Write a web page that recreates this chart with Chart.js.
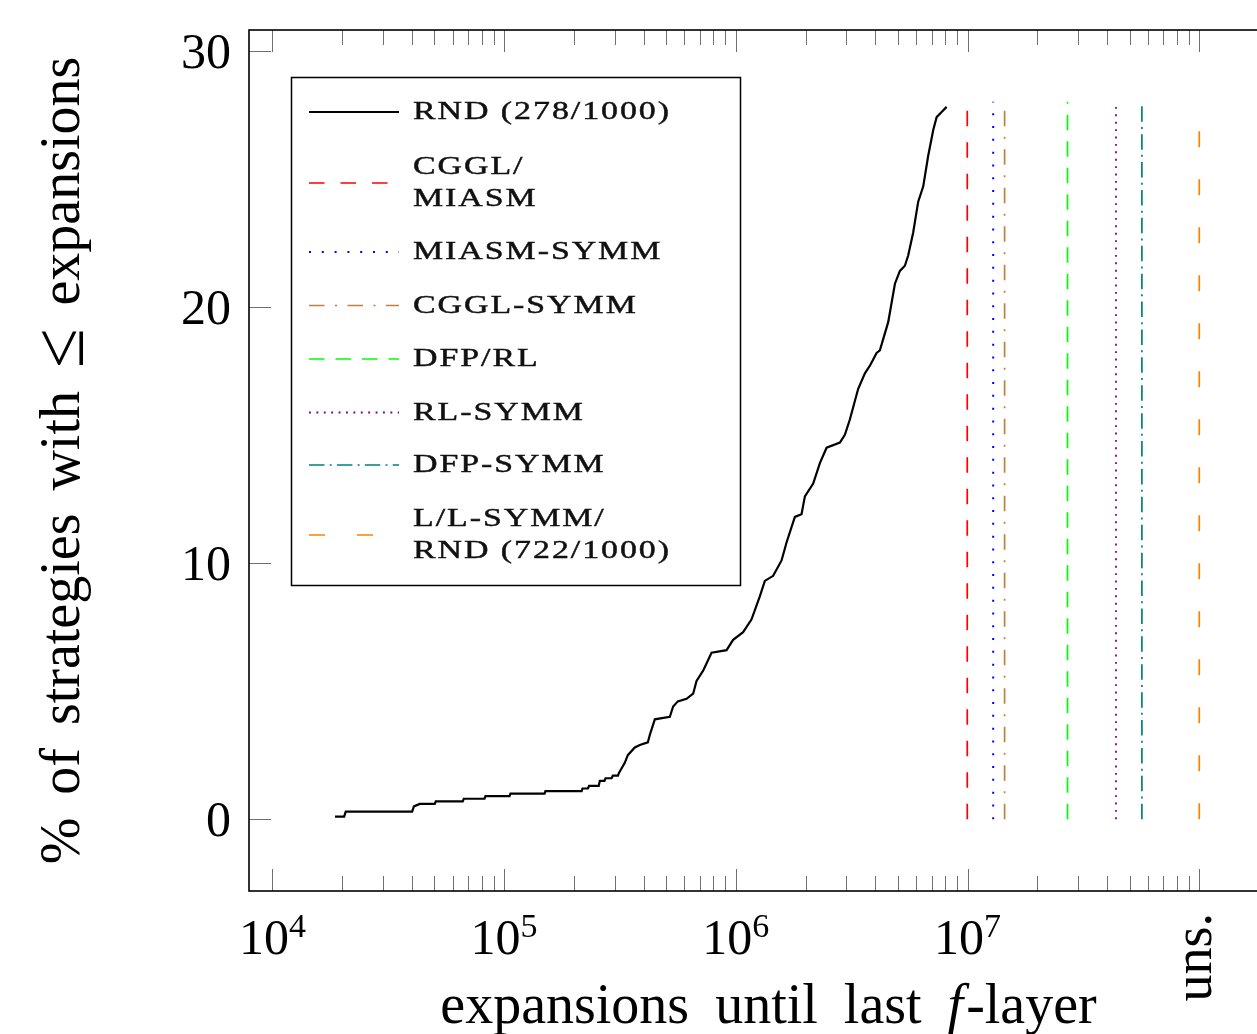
<!DOCTYPE html>
<html><head><meta charset="utf-8">
<script src="https://cdn.jsdelivr.net/npm/chart.js@4.4.1/dist/chart.umd.min.js"></script>
<style>html,body{margin:0;padding:0;background:#fff;overflow:hidden;width:1257px;height:1034px}canvas{display:block}</style>
</head><body>
<canvas id="c" width="1300" height="1034"></canvas>
<script>
// ---- data (vertices of the RND curve) ----
const rndExpansions = [18630, 20400, 20720, 40100, 40800, 43240, 50200, 50700, 66300, 66960,
  82300, 83100, 105500, 106500, 149500, 150800, 216000, 217900, 230000, 232600,
  256000, 258900, 271000, 273900, 291000, 294400, 310000, 312600, 322000, 331700,
  341800, 366400, 385100, 417100, 425500, 447100, 519000, 536300, 561900, 612700,
  654300, 676700, 722400, 785500, 911800, 973400, 1075000, 1169000, 1269000, 1334000,
  1449000, 1575000, 1655000, 1798000, 1921000, 1986000, 2157000, 2305000, 2464000, 2812000,
  2955000, 3105000, 3373000, 3606000, 3789000, 4050000, 4184000, 4545000, 4859000, 5105000,
  5365000, 5543000, 5826000, 6124000, 6438000, 6766000, 7111000, 7354000, 7727000, 8122000];
const rndPercent = [0.1, 0.1, 0.3, 0.3, 0.5, 0.6, 0.6, 0.7, 0.7, 0.8,
  0.8, 0.9, 0.9, 1.0, 1.0, 1.1, 1.1, 1.2, 1.2, 1.3,
  1.3, 1.5, 1.5, 1.6, 1.6, 1.7, 1.7, 1.8, 2.0, 2.2,
  2.5, 2.8, 2.9, 3.0, 3.3, 3.9, 4.0, 4.4, 4.6, 4.7,
  4.9, 5.4, 5.8, 6.5, 6.6, 7.0, 7.3, 7.8, 8.7, 9.3,
  9.5, 10.1, 10.8, 11.8, 11.9, 12.6, 13.1, 13.9, 14.5, 14.7,
  15.0, 15.6, 16.8, 17.4, 17.7, 18.2, 18.3, 19.4, 20.9, 21.4,
  21.6, 22.0, 22.9, 24.1, 24.7, 25.9, 26.9, 27.4, 27.6, 27.8];
const rndLabel = ['RND (278/1000)'];
const strategyLabels = [['CGGL/', 'MIASM'], ['MIASM-SYMM'], ['CGGL-SYMM'], ['DFP/RL'], ['RL-SYMM'], ['DFP-SYMM'], ['L/L-SYMM/', 'RND (722/1000)']];
const strategyExpansions = [9.97e6, 1.29e7, 1.445e7, 2.70e7, 4.37e7, 5.655e7, 1e8];
const strategyRange = [0, 28];
const xMajorExponents = [4, 5, 6, 7];
const unsolvedValue = 1e8;
const unsolvedLabel = 'uns.';
const yTickValues = [0, 10, 20, 30];
const xTitle = ['expansions until last ', 'f', '-layer'];
const yTitle = ['% of strategies with ', '\u2264', ' expansions'];

// ---- styles ----
const strategyColors = ['#ff0000', '#0000ff', '#bf8040', '#00ff00', '#800080', '#008080', '#ff8000'];
const strategyDashes = [[15.5, 16], [2, 10.8], [15.5, 10.5, 2, 10.5], [15.5, 11], [1.9, 5.5], [15.5, 5.2, 2, 5.2], [16, 32]];
const strategyWidths = [1.7, 2, 1.7, 1.7, 1.8, 1.7, 1.7];

const datasets = [{
  data: rndExpansions.map((v, i) => ({x: v, y: rndPercent[i]})),
  borderColor: '#000', borderWidth: 2.2, pointRadius: 0, fill: false, tension: 0,
  borderJoinStyle: 'miter'
}];
strategyExpansions.forEach((v, i) => {
  datasets.push({
    data: strategyRange.map(p => ({x: v, y: p})),
    borderColor: strategyColors[i], borderWidth: strategyWidths[i], borderDash: strategyDashes[i],
    borderCapStyle: 'butt', pointRadius: 0, fill: false
  });
});

const SERIF = '"Liberation Serif", "DejaVu Serif", serif';

const framePlugin = {
  id: 'frame',
  afterDraw(chart) {
    const {ctx, chartArea: a} = chart;
    const xs = chart.scales.x, ys = chart.scales.y;
    ctx.save();
    // ticks
    ctx.strokeStyle = '#707070'; ctx.lineWidth = 1;
    const vtick = (px, len) => {
      const X = Math.round(px) + 0.5;
      ctx.beginPath();
      ctx.moveTo(X, a.bottom); ctx.lineTo(X, a.bottom - len);
      ctx.moveTo(X, a.top); ctx.lineTo(X, a.top + len);
      ctx.stroke();
    };
    xMajorExponents.forEach(e => vtick(xs.getPixelForValue(Math.pow(10, e)), 22));
    vtick(xs.getPixelForValue(unsolvedValue), 22);
    xMajorExponents.forEach(e => {
      for (let m = 2; m <= 9; m++) vtick(xs.getPixelForValue(m * Math.pow(10, e)), 15);
    });
    yTickValues.forEach(v => {
      const Y = Math.round(ys.getPixelForValue(v)) + 0.5;
      ctx.beginPath();
      ctx.moveTo(a.left, Y); ctx.lineTo(a.left + 22, Y);
      ctx.moveTo(a.right, Y); ctx.lineTo(a.right - 22, Y);
      ctx.stroke();
    });
    // frame
    ctx.strokeStyle = '#000'; ctx.lineWidth = 1.6;
    ctx.strokeRect(a.left, a.top, a.right - a.left, a.bottom - a.top);

    // tick labels
    ctx.fillStyle = '#000';
    ctx.textBaseline = 'alphabetic';
    ctx.font = '50px ' + SERIF;
    ctx.textAlign = 'right';
    yTickValues.forEach(v => ctx.fillText(String(v), a.left - 18, ys.getPixelForValue(v) + 17));
    ctx.textAlign = 'left';
    xMajorExponents.forEach(e => {
      const px = xs.getPixelForValue(Math.pow(10, e));
      ctx.font = '50px ' + SERIF;
      const w1 = ctx.measureText('10').width;
      ctx.font = '34px ' + SERIF;
      const w2 = ctx.measureText(String(e)).width;
      const s = px - (w1 + w2) / 2;
      ctx.font = '50px ' + SERIF;
      ctx.fillText('10', s, 954);
      ctx.font = '34px ' + SERIF;
      ctx.fillText(String(e), s + w1, 937);
    });
    // uns.
    ctx.save();
    ctx.translate(xs.getPixelForValue(unsolvedValue) + 12, 913);
    ctx.rotate(-Math.PI / 2);
    ctx.font = '54px ' + SERIF;
    ctx.textAlign = 'right';
    ctx.fillText(unsolvedLabel, 0, 0);
    ctx.restore();

    // axis titles
    const italic = 'italic 56px ' + SERIF;
    const normal = '56px ' + SERIF;
    const bigSym = '72px ' + SERIF;
    ctx.textAlign = 'left';
    ctx.wordSpacing = '12px';
    const widths = xTitle.map((t, i) => { ctx.font = i === 1 ? italic : normal; return ctx.measureText(t).width; });
    let cx = (a.left + a.right) / 2 - widths.reduce((p, q) => p + q, 0) / 2;
    xTitle.forEach((t, i) => { ctx.font = i === 1 ? italic : normal; ctx.fillText(t, cx, 1023); cx += widths[i] + (i === 1 ? 3 : 0); });

    ctx.save();
    ctx.translate(79, (a.top + a.bottom) / 2);
    ctx.rotate(-Math.PI / 2);
    ctx.wordSpacing = '9px';
    const yw = yTitle.map((t, i) => { ctx.font = i === 1 ? bigSym : normal; return ctx.measureText(t).width; });
    let cy = -yw.reduce((p, q) => p + q, 0) / 2;
    yTitle.forEach((t, i) => { ctx.font = i === 1 ? bigSym : normal; ctx.fillText(t, cy, i === 1 ? 4 : 0); cy += yw[i]; });
    ctx.restore();
    ctx.wordSpacing = '0px';

    // legend
    const lx = 291, ly = 77, lw = 449, lh = 508;
    ctx.fillStyle = '#fff';
    ctx.fillRect(lx, ly, lw, lh);
    ctx.strokeStyle = '#000'; ctx.lineWidth = 1.5;
    ctx.strokeRect(lx + 0.5, ly + 0.5, lw, lh);
    const entries = [{lines: rndLabel, color: '#000', dash: [], width: 2.2}];
    strategyLabels.forEach((l, i) => entries.push({lines: l, color: strategyColors[i], dash: strategyDashes[i], width: strategyWidths[i]}));
    const sampleY = [112, 183, 252, 305.5, 359, 412.5, 465, 535];
    ctx.font = '26px ' + SERIF;
    ctx.letterSpacing = '1.5px';
    const sx = 258 / ctx.measureText(rndLabel[0]).width;
    ctx.textAlign = 'left';
    const drawText = (t, x0, y0) => {
      ctx.save(); ctx.translate(x0, y0); ctx.scale(sx, 1);
      ctx.fillStyle = '#111'; ctx.strokeStyle = '#111'; ctx.lineWidth = 0.45;
      ctx.fillText(t, 0, 0); ctx.strokeText(t, 0, 0);
      ctx.restore();
    };
    entries.forEach((en, i) => {
      const sy = sampleY[i];
      ctx.strokeStyle = en.color; ctx.lineWidth = en.width; ctx.lineCap = 'butt';
      ctx.setLineDash(en.dash);
      ctx.beginPath(); ctx.moveTo(309, sy); ctx.lineTo(399, sy); ctx.stroke();
      ctx.setLineDash([]);
      if (en.lines.length === 1) {
        drawText(en.lines[0], 413, sy + 7);
      } else {
        drawText(en.lines[0], 413, sy - 9);
        drawText(en.lines[1], 413, sy + 23);
      }
    });
    ctx.letterSpacing = '0px';
    ctx.restore();
  }
};

new Chart(document.getElementById('c'), {
  type: 'line',
  data: {datasets},
  options: {
    responsive: false, animation: false, devicePixelRatio: 1,
    layout: {padding: {left: 249, top: 30, right: 15, bottom: 143}},
    scales: {
      x: {type: 'logarithmic', min: 7925, max: 2.344e8, display: false},
      y: {type: 'linear', min: -2.8, max: 30.8, display: false}
    },
    plugins: {legend: {display: false}, tooltip: {enabled: false}}
  },
  plugins: [framePlugin]
});
</script>
</body></html>
